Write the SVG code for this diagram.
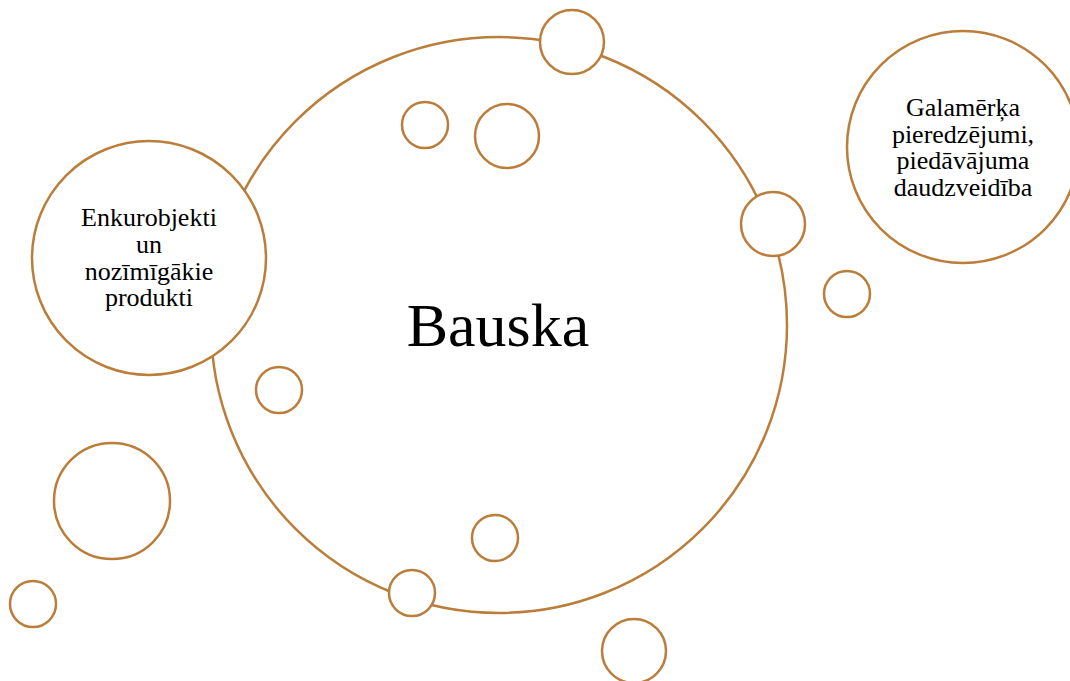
<svg xmlns="http://www.w3.org/2000/svg" width="1070" height="681" viewBox="0 0 1070 681">
<style>
circle{fill:#fff;stroke:#BB7D3A;stroke-width:2.5}
text{font-family:"Liberation Serif","Times New Roman",serif;fill:#000;text-anchor:middle}
.n{font-size:26px}
</style>
<rect width="1070" height="681" fill="#fff"/>
<g id="main"><circle cx="499" cy="325" r="288"/><text x="498" y="346" font-size="62">Bauska</text></g>
<g id="bubbles">
<circle cx="572" cy="42" r="32"/>
<circle cx="425" cy="125" r="23"/>
<circle cx="507" cy="136" r="32"/>
<circle cx="773" cy="224" r="32"/>
<circle cx="847" cy="294" r="23"/>
<circle cx="279" cy="390" r="23"/>
<circle cx="112" cy="501" r="58"/>
<circle cx="33" cy="604" r="23"/>
<circle cx="495" cy="538" r="23"/>
<circle cx="412" cy="593" r="23"/>
<circle cx="634" cy="651" r="32"/>
</g>
<g id="left"><circle cx="149" cy="258" r="117"/>
<text class="n" x="149" y="226">Enkurobjekti</text>
<text class="n" x="149" y="252.5">un</text>
<text class="n" x="149" y="279.5">nozīmīgākie</text>
<text class="n" x="149" y="306">produkti</text></g>
<g id="right"><circle cx="963" cy="147" r="116"/>
<text class="n" x="963" y="116">Galamērķa</text>
<text class="n" x="963" y="142.5">pieredzējumi,</text>
<text class="n" x="963" y="169">piedāvājuma</text>
<text class="n" x="963" y="196">daudzveidība</text></g>
<g id="connectors"></g>
</svg>
